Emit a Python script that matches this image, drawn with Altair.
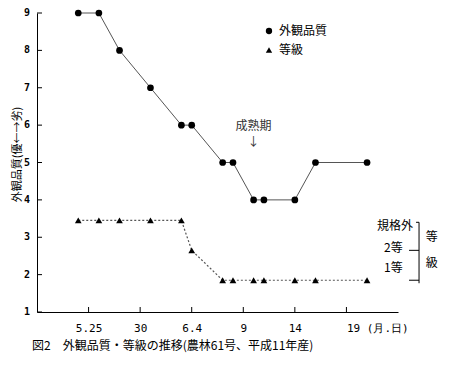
import altair as alt
import pandas as pd

# ---- data ----
dates = ["05-24", "05-26", "05-28", "05-31", "06-03", "06-04", "06-07",
         "06-08", "06-10", "06-11", "06-14", "06-16", "06-21"]
quality = [9, 9, 8, 7, 6, 6, 5, 5, 4, 4, 4, 5, 5]
grade = [3.45, 3.45, 3.45, 3.45, 3.45, 2.65, 1.85, 1.85, 1.85, 1.85, 1.85, 1.85, 1.85]
series_names = ["外観品質", "等級"]

x_tick_days = [0, 5, 10, 15, 20, 25]
x_tick_labels = ["5.25", "30", "6.4", "9", "14", "19 (月.日)"]
y_ticks = [1, 2, 3, 4, 5, 6, 7, 8, 9]

# maturity annotation
mature_day = 16
mature_text = ["成熟期", "↓"]
mature_y = [5.97, 5.55]

# grade scale on the right (x in days, y in chart units)
bracket_x = [32.04, 31.75, 31.07, 31.07]
bracket_x2 = [32.04, 32.04, 32.04, 32.04]
bracket_y = [3.40, 3.40, 2.65, 1.85]
bracket_y2 = [1.77, 3.40, 2.65, 1.85]
grade_label_text = ["規格外", "2等", "1等"]
grade_label_x = [31.45, 30.46, 30.46]
grade_label_y = [3.29, 2.71, 2.17]
side_text = ["等", "級"]
side_x = [33.27, 33.27]
side_y = [3.0, 2.3]

FONT = "Noto Sans CJK JP"
MONO = "DejaVu Sans Mono"

base_date = pd.Timestamp("1999-05-25")
days = [(pd.Timestamp("1999-" + d) - base_date).days for d in dates]

df = pd.DataFrame({
    "day": days * 2,
    "value": quality + grade,
    "series": [series_names[0]] * len(days) + [series_names[1]] * len(days),
})

label_expr = "".join(
    f"datum.value == {d} ? '{l}' : " for d, l in zip(x_tick_days, x_tick_labels)
) + "''"

x_scale = alt.Scale(domain=[-5, 30], nice=False, zero=False)
y_scale = alt.Scale(domain=[1, 9], nice=False, zero=False)

x_enc = alt.X(
    "day:Q", scale=x_scale,
    axis=alt.Axis(
        values=x_tick_days, labelExpr=label_expr, ticks=False, grid=False,
        title=None, domainColor="black", labelFont=MONO, labelFontSize=11,
        labelColor="black", labelPadding=10, labelFlush=False, labelOverlap=False,
        labelAlign={"condition": {"test": "datum.value == 25", "value": "left"}, "value": "center"},
    ),
)
y_enc = alt.Y(
    "value:Q", scale=y_scale,
    axis=alt.Axis(
        values=y_ticks, ticks=False, grid=False, labels=False,
        title="外観品質(優←→劣)", titleFont=FONT, titleFontSize=11,
        titleFontWeight="normal", titleColor="black", titlePadding=15, titleY=141,
        domainColor="black",
    ),
)

line_q = alt.Chart(df).transform_filter(
    alt.datum.series == series_names[0]
).mark_line(color="#555555", strokeWidth=1).encode(x=x_enc, y=y_enc)

line_g = alt.Chart(df).transform_filter(
    alt.datum.series == series_names[1]
).mark_line(color="#555555", strokeWidth=1.2, strokeDash=[2, 2]).encode(x="day:Q", y="value:Q")

points = alt.Chart(df).mark_point(filled=True, color="black", opacity=1, size=45).encode(
    x="day:Q", y="value:Q",
    shape=alt.Shape(
        "series:N",
        scale=alt.Scale(domain=series_names, range=["circle", "triangle-up"]),
        legend=alt.Legend(
            title=None, orient="none", legendX=226, legendY=12, padding=0,
            labelFont=FONT, labelFontSize=12, labelColor="black",
            symbolFillColor="black", symbolStrokeColor="black",
            symbolSize=40, rowPadding=6, labelOffset=4,
        ),
    ),
)

ytick_df = pd.DataFrame({"value": y_ticks})
yticks = alt.Chart(ytick_df).mark_rule(color="black").encode(
    y="value:Q", x=alt.value(0), x2=alt.value(5)
)
ylabels = alt.Chart(ytick_df).mark_text(
    font=MONO, fontSize=10, fontWeight="bold", align="right", baseline="middle", color="black"
).encode(y="value:Q", x=alt.value(-7), text=alt.Text("value:Q", format="d"))

xtick_df = pd.DataFrame({"day": x_tick_days})
xticks = alt.Chart(xtick_df).mark_rule(color="black").encode(
    x="day:Q", y=alt.value(299), y2=alt.value(294)
)

mature_df = pd.DataFrame({"day": [mature_day] * 2, "value": mature_y, "t": mature_text})
mature = alt.Chart(mature_df).mark_text(font=FONT, fontSize=12, color="#333333").encode(
    x="day:Q", y="value:Q", text="t:N"
)

br_df = pd.DataFrame({"day": bracket_x, "x2": bracket_x2, "value": bracket_y, "y2": bracket_y2})
bracket = alt.Chart(br_df).mark_rule(color="black").encode(
    x="day:Q", x2="x2:Q", y="value:Q", y2="y2:Q"
)

gl_df = pd.DataFrame({"day": grade_label_x, "value": grade_label_y, "t": grade_label_text})
grade_labels = alt.Chart(gl_df).mark_text(font=FONT, fontSize=12, align="right", color="black").encode(
    x="day:Q", y="value:Q", text="t:N"
)

side_df = pd.DataFrame({"day": side_x, "value": side_y, "t": side_text})
side = alt.Chart(side_df).mark_text(font=FONT, fontSize=12, color="black").encode(
    x="day:Q", y="value:Q", text="t:N"
)

chart = alt.layer(
    line_q, line_g, points, yticks, ylabels, xticks, mature, bracket, grade_labels, side
).properties(
    width=361, height=299,
    background="white",
    autosize=alt.AutoSizeParams(type="none"),
    padding={"left": 29, "top": 5, "right": 51, "bottom": 57},
    title=alt.TitleParams(
        text="図2　外観品質・等級の推移(農林61号、平成11年産)",
        orient="bottom", anchor="start", frame="group", dx=-5, offset=8,
        font=FONT, fontSize=12, fontWeight="normal", color="black",
    ),
).configure_view(stroke=None)

chart.save("out.html", embed_options={"renderer": "svg", "actions": False})
